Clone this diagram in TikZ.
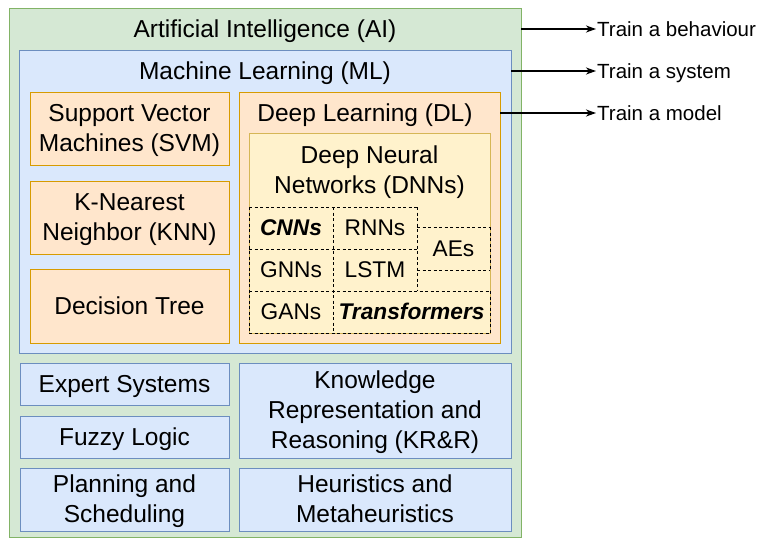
\documentclass[tikz,border=0pt]{standalone}
\usepackage{fontspec}
\setmainfont{Liberation Sans}
\usetikzlibrary{arrows.meta}
\definecolor{aifill}{HTML}{D5E8D4}
\definecolor{aidraw}{HTML}{82B366}
\definecolor{mlfill}{HTML}{DAE8FC}
\definecolor{mldraw}{HTML}{6C8EBF}
\definecolor{orfill}{HTML}{FFE6CC}
\definecolor{ordraw}{HTML}{D79B00}
\definecolor{yefill}{HTML}{FFF2CC}
\definecolor{yedraw}{HTML}{D6B656}
% uniform line box: 1.2em tall, baseline 0.945em below its top
\newcommand{\lbox}{\rule[-0.255em]{0pt}{1.2em}}
\begin{document}
\begin{tikzpicture}[x=1pt,y=-1pt,
  sz/.style 2 args={minimum width=#1pt, minimum height=#2pt},
  frame/.style={rectangle, line width=1pt, inner sep=0pt, outer sep=0pt},
  greenbox/.style={frame, draw=aidraw, fill=aifill},
  bluebox/.style={frame, draw=mldraw, fill=mlfill},
  orangebox/.style={frame, draw=ordraw, fill=orfill},
  yellowbox/.style={frame, draw=yedraw, fill=yefill},
  txt/.style={font=\fontsize{24.5}{30}\selectfont, align=center, inner sep=0pt},
  cell/.style={rectangle, inner sep=0pt, outer sep=0pt, font=\fontsize{22.7}{27}\selectfont, align=center},
  dline/.style={draw=black, line width=0.8pt, dash pattern=on 3pt off 2.5pt},
  side/.style={font=\fontsize{20.5}{24}\selectfont, inner sep=1pt, anchor=west},
  arr/.style={line width=1.3pt, -{Stealth[length=10pt,width=7pt,inset=3pt]}}]
\useasboundingbox (0,0) rectangle (758,538);

% outer AI container
\node[greenbox, sz={512}{529}] (ai) at (265,272.5) {};
\node[txt] (aititle) at (265,29) {\lbox Artificial Intelligence (AI)};

% machine learning container
\node[bluebox, sz={492}{303}] (ml) at (265,201.5) {};
\node[txt] (mltitle) at (265,71) {\lbox Machine Learning (ML)};

% classical ML methods
\node[orangebox, txt, sz={199}{73}] (svm) at (129.5,128.5) {\lbox Support Vector\\\lbox Machines (SVM)};
\node[orangebox, txt, sz={199}{73}] (knn) at (129.5,217.5) {\lbox K-Nearest\\\lbox Neighbor (KNN)};
\node[orangebox, txt, sz={199}{74}] (dt) at (129.5,306) {\lbox Decision Tree};

% deep learning container
\node[orangebox, sz={261}{251}] (dl) at (369.5,217.5) {};
\node[txt] (dltitle) at (365,113) {\lbox Deep Learning (DL)};

% deep neural networks
\node[yellowbox, sz={241}{200}] (dnn) at (369.5,233) {};
\node[txt] (dnntitle) at (369.5,170) {\lbox Deep Neural\\\lbox Networks (DNNs)};

% network families
\node[cell, sz={84}{42}] (cnn) at (291,228) {\lbox\bfseries\itshape CNNs};
\node[cell, sz={84}{42}] (rnn) at (375,228) {\lbox RNNs};
\node[cell, sz={84}{42}] (gnn) at (291,270) {\lbox GNNs};
\node[cell, sz={84}{42}] (lstm) at (375,270) {\lbox LSTM};
\node[cell, sz={73}{43}] (ae) at (453.5,248.5) {\lbox AEs};
\node[cell, sz={84}{42}] (gan) at (291,312) {\lbox GANs};
\node[cell, sz={157}{42}] (trf) at (411.5,312) {\lbox\bfseries\itshape Transformers};

% dashed grid round the network families
\draw[dline] (cnn.north west) -- (rnn.north east);
\draw[dline] (cnn.south west) -- (rnn.south east);
\draw[dline] (gan.north west) -- (trf.north east);
\draw[dline] (gan.south west) -- (trf.south east);
\draw[dline] (cnn.north west) -- (gan.south west);
\draw[dline] (cnn.north east) -- (gan.south east);
\draw[dline] (rnn.north east) -- (lstm.south east);
\draw[dline] (ae.north west) -- (ae.north east);
\draw[dline] (ae.south west) -- (ae.south east);
\draw[dline] (ae.north east) -- (ae.south east);
\draw[dline] (trf.north east) -- (trf.south east);

% other AI fields
\node[bluebox, txt, sz={209}{42}] (exp) at (124.5,384) {\lbox Expert Systems};
\node[bluebox, txt, sz={209}{42}] (fuzzy) at (124.5,437) {\lbox Fuzzy Logic};
\node[bluebox, txt, sz={209}{63}] (plan) at (124.5,499.5) {\lbox Planning and\\\lbox Scheduling};
\node[bluebox, txt, sz={272}{95}] (krr) at (375,410.5) {\lbox Knowledge\\\lbox Representation and\\\lbox Reasoning (KR\&R)};
\node[bluebox, txt, sz={272}{63}] (heur) at (375,499.5) {\lbox Heuristics and\\\lbox Metaheuristics};

% side labels
\node[side] (behav) at (596,29) {\lbox Train a behaviour};
\node[side] (system) at (596,71) {\lbox Train a system};
\node[side] (model) at (596,113) {\lbox Train a model};

\draw[arr] (ai.east |- aititle) -- (behav.west);
\draw[arr] (ml.east |- mltitle) -- (system.west);
\draw[arr] (dl.east |- dltitle) -- (model.west);
\end{tikzpicture}
\end{document}
